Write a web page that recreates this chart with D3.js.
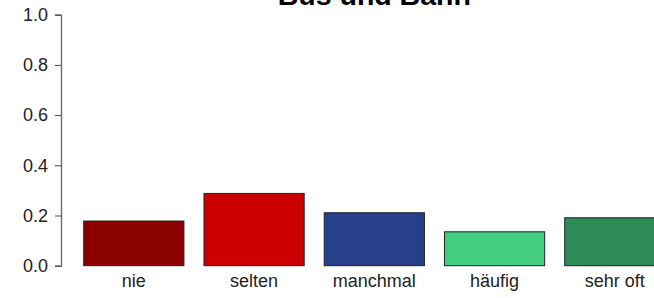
<!DOCTYPE html>
<html>
<head>
<meta charset="utf-8">
<script src="https://cdn.jsdelivr.net/npm/d3@7.9.0/dist/d3.min.js"></script>
<style>
  body { margin: 0; background: #fff; }
  svg { display: block; font-family: Arial, "Liberation Sans", sans-serif; }
</style>
</head>
<body>
<svg width="654" height="298"></svg>
<script>
const title = 'Bus und Bahn';
const categories = ['nie', 'selten', 'manchmal', 'häufig', 'sehr oft'];
const shares = [0.178, 0.288, 0.211, 0.135, 0.191];
const barColors = ['#8B0000', '#CD0000', '#27408B', '#43CD80', '#2E8B57'];
const yTicks = [0, 0.2, 0.4, 0.6, 0.8, 1.0];

const svg = d3.select('svg');

// plot region runs past the right edge, like the original
const x = d3.scaleBand()
  .domain(categories)
  .range([73.7, 674.95])
  .paddingInner(1 / 6)
  .paddingOuter(1 / 12);

const y = d3.scaleLinear().domain([0, 1]).range([265.7, 14.7]);

svg.selectAll('rect.bar')
  .data(categories)
  .join('rect')
  .attr('class', 'bar')
  .attr('x', (d) => x(d))
  .attr('y', (d, i) => y(shares[i]))
  .attr('width', x.bandwidth())
  .attr('height', (d, i) => y(0) - y(shares[i]))
  .attr('fill', (d, i) => barColors[i])
  .attr('stroke', '#222')
  .attr('stroke-width', 1);

// category labels under the bars
svg.selectAll('text.cat')
  .data(categories)
  .join('text')
  .attr('class', 'cat')
  .attr('x', (d) => x(d) + x.bandwidth() / 2)
  .attr('y', 286.5)
  .attr('text-anchor', 'middle')
  .attr('font-size', 18)
  .attr('fill', '#222')
  .text((d) => d);

const yAxis = svg.append('g')
  .attr('transform', 'translate(61,0)')
  .call(d3.axisLeft(y).tickValues(yTicks).tickFormat(d3.format('.1f')).tickSizeOuter(0).tickSize(6).tickPadding(7));

yAxis.select('.domain').attr('stroke', '#666').attr('stroke-width', 1.3);
yAxis.selectAll('.tick line').attr('stroke', '#444');
yAxis.selectAll('.tick text')
  .attr('font-size', 18)
  .attr('font-family', 'Arial, "Liberation Sans", sans-serif')
  .attr('fill', '#222');

svg.append('text')
  .attr('x', 374.3)
  .attr('y', 4.5)
  .attr('text-anchor', 'middle')
  .attr('font-size', 28.5)
  .attr('font-weight', 'bold')
  .attr('fill', '#000')
  .text(title);
</script>
</body>
</html>
